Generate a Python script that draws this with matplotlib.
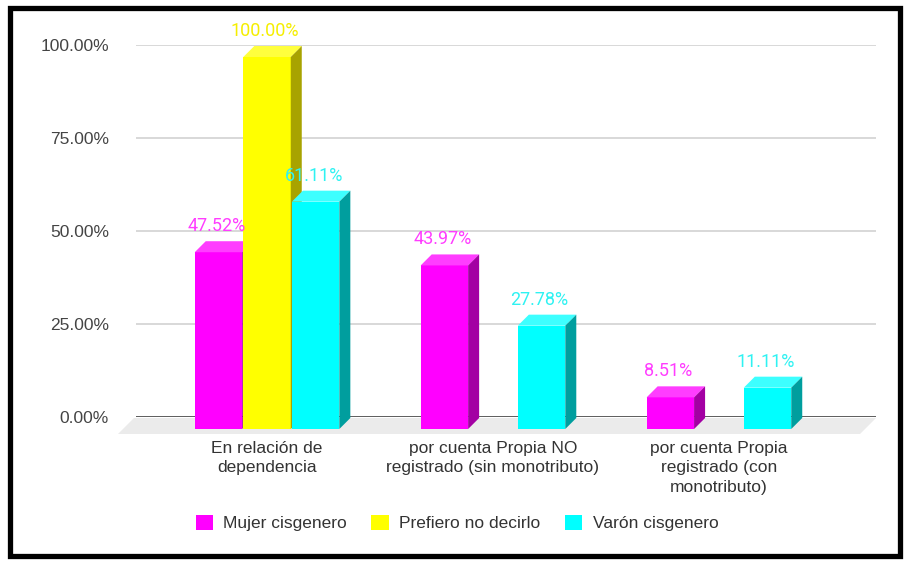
"""
Pseudo-3D grouped bar chart: type of employment by gender identity.
"""

import matplotlib.pyplot as plt
from matplotlib.patches import Polygon, Patch, Rectangle


# ---------------------------------------------------------------------
# Data
# ---------------------------------------------------------------------

categories = [
    "En relación de\ndependencia",
    "por cuenta Propia NO\nregistrado (sin monotributo)",
    "por cuenta Propia\nregistrado (con\nmonotributo)",
]
series_names = ["Mujer cisgenero", "Prefiero no decirlo", "Varón cisgenero"]
mujer = [47.52, 43.97, 8.51]
prefiero = [100.00, None, None]
varon = [61.11, 27.78, 11.11]
yticks = [0, 25, 50, 75, 100]

series_values = [mujer, prefiero, varon]

# front / top / side / label colours for each series
front_colors = ["#ff00ff", "#ffff00", "#00ffff"]
top_colors = ["#ff3dff", "#ffff3d", "#3dffff"]
side_colors = ["#a300a3", "#a8a300", "#009e9e"]
label_colors = ["#ff3dff", "#f5ee00", "#2ff2f2"]


# ---------------------------------------------------------------------
# Figure layout (pixel based)
# ---------------------------------------------------------------------

W, H = 907, 565
fig = plt.figure(figsize=(W / 100, H / 100), dpi=100)

ax = fig.add_axes([136 / W, (H - 417) / H, 740 / W, 372 / H])
xmin, xmax = -0.633, 2.642
ax.set_xlim(xmin, xmax)
ax.set_ylim(0, 100)

# size of one pixel in data units
px_x = (xmax - xmin) / 740
px_y = 100 / 372

FRONT = 12   # front plane shift (px)
DEPTH = 11   # bar depth (px)
width = 0.21
step = 0.215

# floor
floor = Polygon(
    [(xmin - 2 * px_x, -1 * px_y), (xmax, -1 * px_y),
     (xmax - 16 * px_x, -17 * px_y), (xmin - 18 * px_x, -17 * px_y)],
    closed=True, facecolor="#ebebeb", edgecolor="none",
    zorder=1, clip_on=False,
)
ax.add_patch(floor)
ax.axhline(0, color="#3a3a3a", lw=1.8, zorder=2)

ax.yaxis.grid(True, color="#d6d6d6", lw=1.3, zorder=0)
ax.set_axisbelow(True)

# ---------------------------------------------------------------------
# Bars
# ---------------------------------------------------------------------

z = 3
for i in range(len(categories)):
    for j, vals in enumerate(series_values):
        v = vals[i]
        if v is None:
            continue
        xc = i + (j - 1) * step - FRONT * px_x
        x0 = xc - width / 2
        x1 = xc + width / 2
        base = -FRONT * px_y
        top = v - FRONT * px_y
        dx, dy = DEPTH * px_x, DEPTH * px_y

        ax.bar(xc, v, width=width, bottom=base, color=front_colors[j],
               linewidth=0, zorder=z, clip_on=False)
        ax.add_patch(Polygon(
            [(x0, top), (x1, top), (x1 + dx, top + dy), (x0 + dx, top + dy)],
            closed=True, facecolor=top_colors[j], edgecolor="none",
            zorder=z, clip_on=False))
        ax.add_patch(Polygon(
            [(x1, base), (x1, top), (x1 + dx, top + dy), (x1 + dx, base + dy)],
            closed=True, facecolor=side_colors[j], edgecolor="none",
            zorder=z, clip_on=False))
        z += 1

        ax.annotate(f"{v:.2f}%", xy=(xc, v), xytext=(-2, 14),
                    textcoords="offset pixels", ha="center", va="center",
                    color=label_colors[j], fontsize=13, family="Roboto",
                    zorder=20, annotation_clip=False)

# ---------------------------------------------------------------------
# Axes styling
# ---------------------------------------------------------------------

ax.set_yticks(yticks)
ax.set_yticklabels([f"{t:.2f}%" for t in yticks])
ax.tick_params(axis="y", length=0, pad=19.5, labelsize=12.5,
               labelcolor="#444444")
for lab in ax.get_yticklabels():
    lab.set_family("Liberation Sans")

ax.set_xticks([i - FRONT * px_x for i in range(len(categories))])
ax.set_xticklabels(categories, linespacing=1.4)
ax.tick_params(axis="x", length=0, pad=17, labelsize=12.5,
               labelcolor="#333333")
for lab in ax.get_xticklabels():
    lab.set_family("Liberation Sans")

for s in ax.spines.values():
    s.set_visible(False)

handles = [Patch(facecolor=c, edgecolor="none") for c in front_colors]
fig.legend(handles, series_names, loc="center",
           bbox_to_anchor=(457 / W, 1 - 523 / H), ncol=3, frameon=False,
           handlelength=1.0, handleheight=1.0, handletextpad=0.6,
           columnspacing=1.4,
           prop={"family": "Liberation Sans", "size": 12.5},
           labelcolor="#333333")

# black frame around the picture
fig.patches.append(Rectangle(
    (9.5 / W, 9 / H), 890.5 / W, 548.5 / H, transform=fig.transFigure,
    fill=False, edgecolor="black", linewidth=3.8))

plt.savefig("out.png", dpi=100)
